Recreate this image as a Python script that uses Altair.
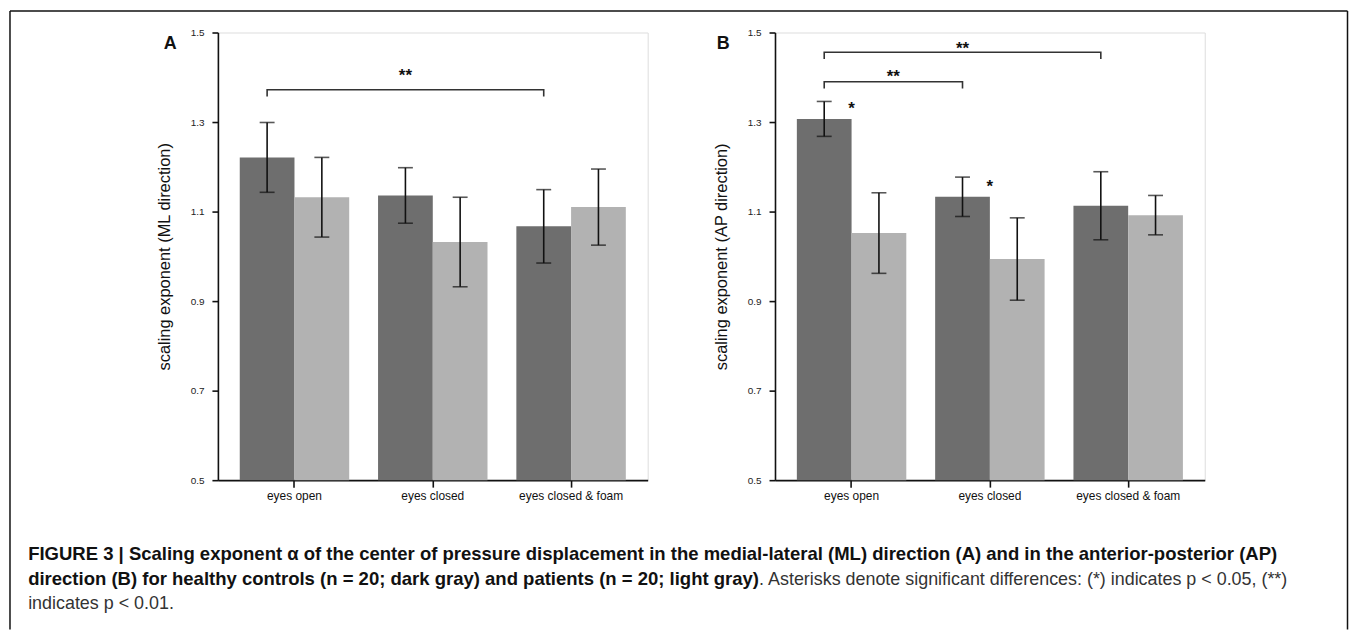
import altair as alt
import pandas as pd

# ---------------- data ----------------
conditions = ["eyes open", "eyes closed", "eyes closed & foam"]
groups = ["controls", "patients"]

ml_controls = [1.221, 1.136, 1.067]
ml_controls_err = [0.078, 0.062, 0.082]
ml_patients = [1.132, 1.032, 1.110]
ml_patients_err = [0.089, 0.100, 0.085]

ap_controls = [1.307, 1.133, 1.113]
ap_controls_err = [0.039, 0.044, 0.076]
ap_patients = [1.052, 0.994, 1.092]
ap_patients_err = [0.090, 0.092, 0.044]

y_ticks = [0.5, 0.7, 0.9, 1.1, 1.3, 1.5]

# brackets: (start condition, end condition, level, label level)
brackets_ml = [("eyes open", "eyes closed & foam", 1.372, 1.412)]
brackets_ap = [("eyes open", "eyes closed & foam", 1.456, 1.473),
               ("eyes open", "eyes closed", 1.390, 1.409)]
bracket_drop = 0.015
bracket_label = "**"

stars_ap_cond = ["eyes open", "eyes closed"]
stars_ap_y = [1.338, 1.164]
star_label = "*"

panel_letters = ["A", "B"]
y_titles = ["scaling exponent (ML direction)", "scaling exponent (AP direction)"]

caption_line1 = ("FIGURE 3 | Scaling exponent \u03b1 of the center of pressure displacement in the "
                 "medial-lateral (ML) direction (A) and in the anterior-posterior (AP)")
caption_line2_bold = ("direction (B) for healthy controls (n = 20; dark gray) and patients "
                      "(n = 20; light gray)")
caption_line2_reg = ". Asterisks denote significant differences: (*) indicates p < 0.05, (**)"
caption_line3 = "indicates p < 0.01."

DARK = "#6e6e6e"
LIGHT = "#b2b2b2"
W, H = 432, 450
STEP = 139.0
SANS = "Liberation Sans, Arial"


def build_frames(ctrl, ctrl_err, pat, pat_err):
    rows = []
    for i, c in enumerate(conditions):
        rows.append({"condition": c, "group": groups[0], "value": ctrl[i],
                     "lo": ctrl[i] - ctrl_err[i], "hi": ctrl[i] + ctrl_err[i]})
        rows.append({"condition": c, "group": groups[1], "value": pat[i],
                     "lo": pat[i] - pat_err[i], "hi": pat[i] + pat_err[i]})
    return pd.DataFrame(rows)


def panel(df, brackets, title, letter, stars=None):
    x_enc = alt.X("condition:N", sort=conditions,
                  scale=alt.Scale(domain=conditions, paddingInner=0.2086, paddingOuter=0.158),
                  axis=alt.Axis(title=None, labelAngle=0, domainColor="#111", domainWidth=1.6,
                                tickColor="#111", tickWidth=1.6, tickSize=7, labelPadding=3,
                                labelFont=SANS, labelFontSize=12, labelColor="#111"))
    xo_enc = alt.XOffset("group:N", sort=groups,
                         scale=alt.Scale(domain=groups, paddingInner=0, paddingOuter=0))
    y_scale = alt.Scale(domain=[0.5, 1.5], zero=False, nice=False)
    y_axis = alt.Axis(values=y_ticks, format=".1f", grid=False, title=title,
                      domainColor="#111", domainWidth=1.6, tickColor="#111", tickWidth=1.6,
                      tickSize=6, labelPadding=8, labelFont=SANS, labelFontSize=10,
                      labelColor="#222", titleFont=SANS, titleFontSize=16.5,
                      titleFontWeight="normal", titleColor="#111", titlePadding=18)

    base = alt.Chart(df)
    bars = base.mark_bar().encode(
        x=x_enc, xOffset=xo_enc,
        y=alt.Y("value:Q", scale=y_scale, axis=y_axis),
        y2=alt.datum(0.5),
        color=alt.Color("group:N", scale=alt.Scale(domain=groups, range=[DARK, LIGHT]), legend=None),
    )
    err = base.mark_rule(color="#111", strokeWidth=1.6).encode(
        x=alt.X("condition:N", sort=conditions), xOffset=alt.XOffset("group:N", sort=groups),
        y=alt.Y("lo:Q"), y2="hi:Q")
    cap_lo = base.mark_tick(color="#111", size=15, thickness=1.6).encode(
        x=alt.X("condition:N", sort=conditions), xOffset=alt.XOffset("group:N", sort=groups),
        y=alt.Y("lo:Q"))
    cap_hi = base.mark_tick(color="#111", size=15, thickness=1.6).encode(
        x=alt.X("condition:N", sort=conditions), xOffset=alt.XOffset("group:N", sort=groups),
        y=alt.Y("hi:Q"))

    # brackets as 4-point lines
    brows = []
    lab_even, lab_odd = [], []
    for k, (a, b, lvl, lab) in enumerate(brackets):
        pts = [(a, lvl - bracket_drop), (a, lvl), (b, lvl), (b, lvl - bracket_drop)]
        for o, (c, v) in enumerate(pts):
            brows.append({"bid": k, "ord": o, "condition": c, "group": groups[0], "value": v})
        ia, ib = conditions.index(a), conditions.index(b)
        if (ib - ia) % 2 == 0:
            lab_even.append({"condition": conditions[(ia + ib) // 2], "group": groups[0],
                             "value": lab, "t": bracket_label})
        else:
            lab_odd.append({"condition": a, "group": groups[0], "value": lab, "t": bracket_label})
    bdf = pd.DataFrame(brows)
    br = alt.Chart(bdf).mark_line(color="#333", strokeWidth=1.6).encode(
        x=alt.X("condition:N", sort=conditions), xOffset=alt.XOffset("group:N", sort=groups),
        y=alt.Y("value:Q"), detail="bid:N", order="ord:Q")
    layers = [bars, err, cap_lo, cap_hi, br]
    if lab_even:
        layers.append(alt.Chart(pd.DataFrame(lab_even)).mark_text(
            font=SANS, fontSize=17, fontWeight="bold", color="#111", baseline="middle", dy=4).encode(
            x=alt.X("condition:N", sort=conditions), xOffset=alt.XOffset("group:N", sort=groups),
            y=alt.Y("value:Q"), text="t:N"))
    if lab_odd:
        layers.append(alt.Chart(pd.DataFrame(lab_odd)).mark_text(
            font=SANS, fontSize=17, fontWeight="bold", color="#111", baseline="middle", dy=4,
            dx=STEP / 2).encode(
            x=alt.X("condition:N", sort=conditions), xOffset=alt.XOffset("group:N", sort=groups),
            y=alt.Y("value:Q"), text="t:N"))
    if stars is not None:
        sdf = pd.DataFrame({"condition": stars[0], "group": groups[0], "value": stars[1],
                            "t": star_label})
        layers.append(alt.Chart(sdf).mark_text(
            font=SANS, fontSize=17, fontWeight="bold", color="#111", baseline="middle", dy=4,
            dx=27.5).encode(
            x=alt.X("condition:N", sort=conditions), xOffset=alt.XOffset("group:N", sort=groups),
            y=alt.Y("value:Q"), text="t:N"))
    # panel letter
    layers.append(alt.Chart(pd.DataFrame({"t": [letter]})).mark_text(
        font=SANS, fontSize=18, fontWeight="bold", color="#111", align="center",
        baseline="middle").encode(x=alt.value(-48 if letter == "A" else -52), y=alt.value(11.5),
                                  text="t:N"))
    return layers


dfA = build_frames(ml_controls, ml_controls_err, ml_patients, ml_patients_err)
dfB = build_frames(ap_controls, ap_controls_err, ap_patients, ap_patients_err)

layersA = panel(dfA, brackets_ml, y_titles[0], panel_letters[0])
layersB = panel(dfB, brackets_ap, y_titles[1], panel_letters[1], stars=(stars_ap_cond, stars_ap_y))

# figure frame and caption (drawn in panel A's coordinate space)
FT = -21.5
frame_df = pd.DataFrame({"k": [0]})
frame_left = alt.Chart(frame_df).mark_rule(color="#111", strokeWidth=1.5).encode(
    x=alt.value(-209), y=alt.value(FT), y2=alt.value(600))
frame_right = alt.Chart(frame_df).mark_rule(color="#111", strokeWidth=1.5).encode(
    x=alt.value(1135.5), y=alt.value(FT), y2=alt.value(600))
frame_top = alt.Chart(frame_df).mark_rule(color="#111", strokeWidth=1.5).encode(
    x=alt.value(-209), x2=alt.value(1135.5), y=alt.value(FT))

CX = -190.75
cap1 = alt.Chart(pd.DataFrame({"t": [caption_line1]})).mark_text(
    font=SANS, fontSize=18.6, fontWeight="bold", color="#111", align="left",
    baseline="alphabetic").encode(x=alt.value(CX), y=alt.value(530.5), text="t:N")
cap2b = alt.Chart(pd.DataFrame({"t": [caption_line2_bold]})).mark_text(
    font=SANS, fontSize=18.6, fontWeight="bold", color="#111", align="left",
    baseline="alphabetic").encode(x=alt.value(CX), y=alt.value(555.5), text="t:N")
cap2r = alt.Chart(pd.DataFrame({"t": [caption_line2_reg]})).mark_text(
    font=SANS, fontSize=18, fontWeight="normal", color="#333", align="left",
    baseline="alphabetic").encode(x=alt.value(544), y=alt.value(555.5), text="t:N")
cap3 = alt.Chart(pd.DataFrame({"t": [caption_line3]})).mark_text(
    font=SANS, fontSize=18, fontWeight="normal", color="#333", align="left",
    baseline="alphabetic").encode(x=alt.value(CX), y=alt.value(579.5), text="t:N")

panelA = alt.layer(*layersA, frame_left, frame_right, frame_top, cap1, cap2b, cap2r, cap3).properties(
    width=W, height=H)
panelB = alt.layer(*layersB).properties(width=W, height=H)

chart = alt.hconcat(panelA, panelB, spacing=128, bounds="flush", padding=0).configure_view(
    strokeWidth=0).configure(background="white")

chart.save("out.html", embed_options={"renderer": "svg", "actions": False})
